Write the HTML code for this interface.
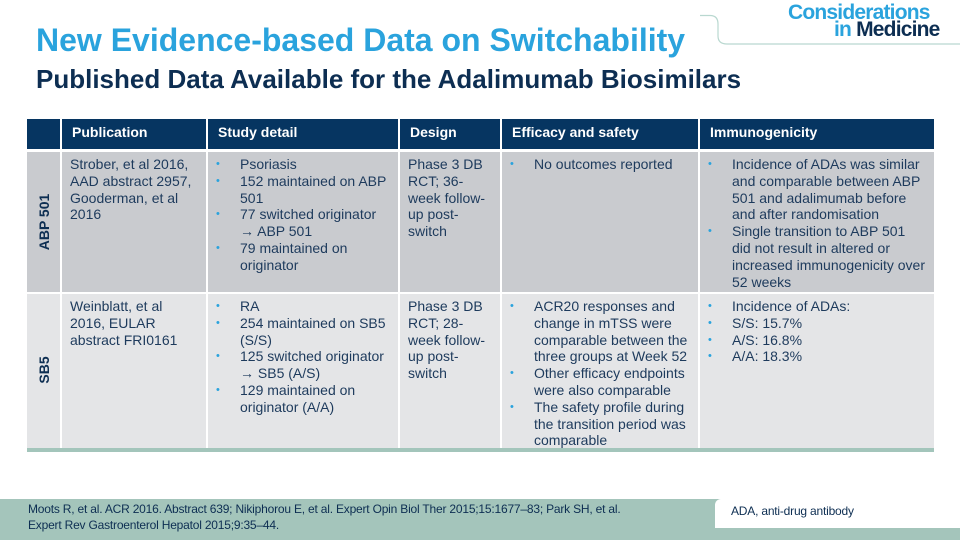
<!DOCTYPE html><html><head><meta charset="utf-8"><style>
body{margin:0;width:960px;height:540px;position:relative;overflow:hidden;background:#fff;font-family:"Liberation Sans",Arial,sans-serif;color:#1d3557}
.a{position:absolute}
.t1{left:36px;top:22px;font-size:32px;font-weight:bold;color:#2aa3dd}
.t2{left:36px;top:64px;font-size:26px;font-weight:bold;color:#0d2e52}
.hd{top:119px;height:30px;background:#063561;color:#fff;font-weight:bold;font-size:14px;box-sizing:border-box;padding:5px 0 0 10px}
.c{font-size:14px;line-height:16.8px;color:#1d3a5c;box-sizing:border-box;padding:4px 0 0 8px;white-space:nowrap}
.r1{top:152px;height:140px;background:#c9cbcf}
.r2{top:294px;height:154px;background:#e4e5e7}
ul{margin:0;padding:0;list-style:none}
li{position:relative;padding-left:24px}
li:before{content:"•";position:absolute;left:0;color:#2aa3dd;font-size:11px}
.v{font-weight:bold;font-size:14px;color:#0d2e52;transform:rotate(-90deg);white-space:nowrap}
</style></head><body>
<div class="a t1">New Evidence-based Data on Switchability</div>
<div class="a t2">Published Data Available for the Adalimumab Biosimilars</div>
<svg class="a" style="left:700px;top:0" width="260" height="46"><path d="M0 15.5 H10 Q18 15.5 18 24 V36 Q18 44 27 44 H260" fill="none" stroke="#b9d8d0" stroke-width="1.2"/></svg>
<div class="a" style="left:788px;top:4px;font-size:21px;font-weight:bold;color:#2aa3dd;letter-spacing:-0.8px;line-height:18px">Considerations</div>
<div class="a" style="left:834px;top:21px;font-size:21px;font-weight:bold;color:#0d2e52;letter-spacing:-0.8px;line-height:18px"><span style="color:#2aa3dd">in</span> Medicine</div>

<div class="a hd" style="left:27px;width:33px"></div>
<div class="a hd" style="left:62px;width:144px">Publication</div>
<div class="a hd" style="left:208px;width:190px">Study detail</div>
<div class="a hd" style="left:400px;width:100px">Design</div>
<div class="a hd" style="left:502px;width:196px">Efficacy and safety</div>
<div class="a hd" style="left:700px;width:234px">Immunogenicity</div>

<div class="a r1" style="left:27px;width:33px"></div>
<div class="a v" style="left:14px;top:214px;width:60px;text-align:center">ABP 501</div>
<div class="a c r1" style="left:62px;width:144px">Strober, et al 2016,<br>AAD abstract 2957,<br>Gooderman, et al<br>2016</div>
<div class="a c r1" style="left:208px;width:190px"><ul><li>Psoriasis</li><li>152 maintained on ABP<br>501</li><li>77 switched originator<br>→ ABP 501</li><li>79 maintained on<br>originator</li></ul></div>
<div class="a c r1" style="left:400px;width:100px">Phase 3 DB<br>RCT; 36-<br>week follow-<br>up post-<br>switch</div>
<div class="a c r1" style="left:502px;width:196px"><ul><li>No outcomes reported</li></ul></div>
<div class="a c r1" style="left:700px;width:234px"><ul><li>Incidence of ADAs was similar<br>and comparable between ABP<br>501 and adalimumab before<br>and after randomisation</li><li>Single transition to ABP 501<br>did not result in altered or<br>increased immunogenicity over<br>52 weeks</li></ul></div>

<div class="a r2" style="left:27px;width:33px"></div>
<div class="a v" style="left:14px;top:362px;width:60px;text-align:center">SB5</div>
<div class="a c r2" style="left:62px;width:144px">Weinblatt, et al<br>2016, EULAR<br>abstract FRI0161</div>
<div class="a c r2" style="left:208px;width:190px"><ul><li>RA</li><li>254 maintained on SB5<br>(S/S)</li><li>125 switched originator<br>→ SB5 (A/S)</li><li>129 maintained on<br>originator (A/A)</li></ul></div>
<div class="a c r2" style="left:400px;width:100px">Phase 3 DB<br>RCT; 28-<br>week follow-<br>up post-<br>switch</div>
<div class="a c r2" style="left:502px;width:196px"><ul><li>ACR20 responses and<br>change in mTSS were<br>comparable between the<br>three groups at Week 52</li><li>Other efficacy endpoints<br>were also comparable</li><li>The safety profile during<br>the transition period was<br>comparable</li></ul></div>
<div class="a c r2" style="left:700px;width:234px"><ul><li>Incidence of ADAs:</li><li>S/S: 15.7%</li><li>A/S: 16.8%</li><li>A/A: 18.3%</li></ul></div>
<div class="a" style="left:27px;top:448px;width:907px;height:4px;background:#a3c5bb"></div>

<div class="a" style="left:0;top:499px;width:960px;height:41px;background:#a4c5bb"></div>
<div class="a" style="left:715px;top:499px;width:245px;height:29px;background:#fff;border-top-left-radius:6px"></div>
<div class="a" style="left:28px;top:502px;font-size:12px;line-height:15.5px;color:#0d2e52;letter-spacing:-0.2px">Moots R, et al. ACR 2016. Abstract 639; Nikiphorou E, et al. Expert Opin Biol Ther 2015;15:1677–83; Park SH, et al.<br>Expert Rev Gastroenterol Hepatol 2015;9:35–44.</div>
<div class="a" style="left:731px;top:504px;font-size:12px;color:#0d2e52;letter-spacing:-0.2px">ADA, anti-drug antibody</div>
</body></html>
